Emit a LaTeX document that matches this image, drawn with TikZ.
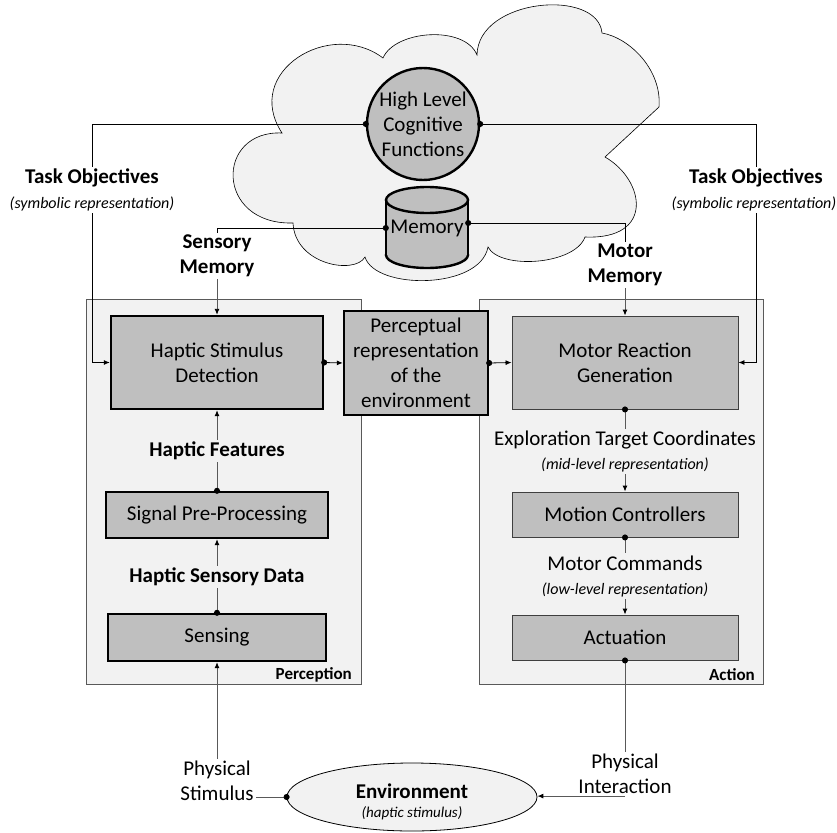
\documentclass[tikz,border=0pt]{standalone}
\usepackage{fontspec}
\setmainfont{Carlito}
\usetikzlibrary{arrows.meta,shapes.geometric}
\definecolor{cloudfill}{HTML}{F2F2F2}
\definecolor{boxgray}{HTML}{BFBFBF}
\definecolor{linegray}{HTML}{595959}
\definecolor{contline}{HTML}{595959}
\definecolor{thinline}{HTML}{3F3F3F}
\begin{document}
\begin{tikzpicture}[x=1pt,y=-1pt,
  fmain/.style={font=\fontsize{21}{25}\selectfont},
  fbold/.style={font=\fontsize{21}{25}\selectfont\bfseries},
  fital/.style={font=\fontsize{16}{19}\selectfont\itshape},
  lbl/.style={inner sep=2pt, align=center},
  container/.style={draw=contline, line width=0.8pt, fill=cloudfill, inner sep=0pt},
  thickbox/.style={draw=black, line width=2.4pt, fill=boxgray, align=center, fmain, inner sep=0pt},
  thinbox/.style={draw=thinline, line width=0.9pt, fill=boxgray, align=center, fmain, inner sep=0pt},
  conn/.style={draw=black, line width=0.8pt},
  gconn/.style={draw=linegray, line width=0.9pt},
  dotarrow/.style={{Circle[length=6pt,color=black]}-{Latex[length=6pt,width=5pt,color=black]}, shorten <=-3pt},
  arrowonly/.style={-{Latex[length=6pt,width=5pt,color=black]}},
  dotonly/.style={{Circle[length=6pt,color=black]}-, shorten <=-3pt},
]
\useasboundingbox (0,0) rectangle (837,832);

% cloud
\path[draw=black, line width=0.6pt, fill=cloudfill] (282,133)
 .. controls (242,72) and (330,18) .. (383,58)
 .. controls (395,30) and (465,25) .. (477,55)
 .. controls (478,-2) and (598,-12) .. (602,33)
 .. controls (630,38) and (662,70) .. (659,107)
 -- (605,157)
 .. controls (645,180) and (655,240) .. (585,237)
 .. controls (575,265) and (500,270) .. (488,247)
 .. controls (480,290) and (375,290) .. (365,257)
 .. controls (355,275) and (295,265) .. (293,223)
 .. controls (215,225) and (215,130) .. (282,133) -- cycle;

% containers
\node[container, minimum width=275pt, minimum height=385pt] (percc) at (223.5,491.5) {};
\node[container, minimum width=284pt, minimum height=385pt] (actc) at (621,491.5) {};
\node[font=\fontsize{17}{20}\selectfont\bfseries, anchor=south east, inner sep=2pt] (perclbl) at (354,684) {Perception};
\node[font=\fontsize{17}{20}\selectfont\bfseries, anchor=south east, inner sep=2pt] (actlbl) at (757,683) {Action};

% high level functions
\node[circle, draw=black, line width=2.4pt, fill=boxgray, minimum size=112pt, inner sep=0pt, align=center, fmain] (hlc) at (423,124) {High Level\\Cognitive\\Functions};

% memory cylinder
\filldraw[fill=boxgray, draw=black, line width=2.4pt] (427,255) ellipse [x radius=41pt, y radius=13pt];
\fill[boxgray] (386,200) rectangle (468,255);
\draw[black, line width=2.4pt] (386,200) -- (386,255) (468,200) -- (468,255);
\filldraw[fill=boxgray, draw=black, line width=2.4pt] (427,200) ellipse [x radius=41pt, y radius=13pt];
\node[fmain, minimum width=82pt, minimum height=40pt, inner sep=0pt] (mem) at (427,228) {Memory};
\coordinate (memr) at ([yshift=5pt]mem.east);

% boxes
\node[thickbox, minimum width=212pt, minimum height=93pt] (hsd) at (217,362.5) {Haptic Stimulus\\Detection};
\node[thickbox, minimum width=144pt, minimum height=104pt] (pr) at (416,363) {Perceptual\\representation\\of the\\environment};
\node[thinbox, minimum width=226pt, minimum height=93pt] (mrg) at (625,362.5) {Motor Reaction\\Generation};
\node[thickbox, minimum width=222pt, minimum height=46pt] (spp) at (217,515) {Signal Pre-Processing};
\node[thickbox, minimum width=218pt, minimum height=47pt] (sens) at (217,637.5) {Sensing};
\node[thinbox, minimum width=226pt, minimum height=45pt] (mc) at (625,514.5) {Motion Controllers};
\node[thinbox, minimum width=226pt, minimum height=45pt] (actu) at (625,637.5) {Actuation};

% environment
\node[ellipse, draw=black, line width=0.8pt, fill=cloudfill, minimum width=250pt, minimum height=68pt, inner sep=0pt] (env) at (412,797) {};
\node[fbold, lbl] (envt) at (412,791) {Environment};
\node[font=\fontsize{15}{17}\selectfont\itshape, lbl] (envs) at (412,813) {(haptic stimulus)};

% labels
\node[fbold, lbl] (tol1) at (92,178) {Task Objectives};
\node[fital, lbl] (tol2) at (92,204) {(symbolic representation)};
\node[fbold, lbl] (tor1) at (756,178) {Task Objectives};
\node[fital, lbl] (tor2) at (754,204) {(symbolic representation)};
\node[fbold, lbl] (smem) at (217,256) {Sensory\\Memory};
\node[fbold, lbl] (mmem) at (625,265) {Motor\\Memory};
\node[fbold, lbl] (hf) at (217,451) {Haptic Features};
\node[fbold, lbl] (hsdl) at (217,577) {Haptic Sensory Data};
\node[fmain, lbl] (etc1) at (625,440) {Exploration Target Coordinates};
\node[fital, lbl] (etc2) at (625,465) {(mid-level representation)};
\node[fmain, lbl] (mcl1) at (625,563) {Motor Commands};
\node[fital, lbl] (mcl2) at (625,590) {(low-level representation)};
\node[fmain, lbl] (stim) at (217,781) {Physical\\Stimulus};
\node[fmain, lbl] (pil) at (625,774) {Physical\\Interaction};

% connectors
\draw[conn, dotonly] (hlc.west) -| (tol1.north);
\draw[conn, arrowonly] (tol2.south) |- (hsd.west);
\draw[conn, dotonly] (hlc.east) -| (tor1.north);
\draw[conn, arrowonly] (tor1.south |- tor2.south) |- (mrg.east);
\draw[conn, dotonly] (mem.west) -| (smem.north);
\draw[gconn, arrowonly] (smem.south) -- (hsd.north);
\draw[conn, dotonly] (memr) -| (mmem.north);
\draw[gconn, arrowonly] (mmem.south) -- (mrg.north);
\draw[conn, dotarrow] (hsd.east) -- (pr.west);
\draw[conn, dotarrow] (pr.east) -- (mrg.west);
\draw[gconn, dotonly] (spp.north) -- (hf.south);
\draw[gconn, arrowonly] (hf.north) -- (hsd.south);
\draw[gconn, dotonly] (sens.north) -- (hsdl.south);
\draw[gconn, arrowonly] (hsdl.north) -- (spp.south);
\draw[gconn, dotonly] (env.west) -- (env.west -| stim.east);
\draw[gconn, arrowonly] (stim.north) -- (sens.south);
\draw[gconn, dotonly] (mrg.south) -- (etc1.north);
\draw[gconn, arrowonly] (etc2.south) -- (mc.north);
\draw[gconn, dotonly] (mc.south) -- (mcl1.north);
\draw[gconn, arrowonly] (mcl2.south) -- (actu.north);
\draw[gconn, dotonly] (actu.south) -- (pil.north);
\draw[gconn, arrowonly] (pil.south) -- (pil.south -| env.east);
\end{tikzpicture}
\end{document}
